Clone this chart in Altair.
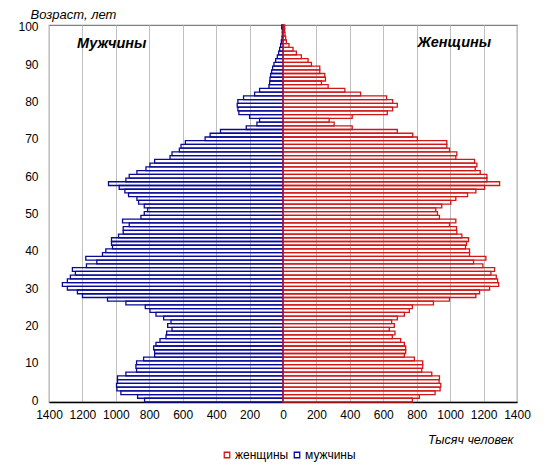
import altair as alt
import pandas as pd

ages = list(range(101))
men = [828, 870, 970, 994, 996, 990, 990, 940, 876, 880,
       876, 834, 768, 768, 774, 760, 736, 700, 696, 664,
       690, 670, 714, 760, 796, 824, 940, 1050, 1200, 1230,
       1290, 1320, 1290, 1272, 1242, 1260, 1176, 1114, 1180, 1080,
       1060, 1020, 1026, 1026, 984, 956, 956, 920, 960, 850,
       830, 810, 830, 864, 874, 924, 946, 980, 1044, 940,
       920, 874, 820, 796, 768, 676, 664, 620, 610, 584,
       466, 436, 374, 220, 156, 140, 200, 264, 270, 274,
       270, 236, 170, 140, 84, 80, 78, 74, 68, 62,
       54, 44, 34, 26, 20, 14, 10, 6, 4, 4,
       8]
women = [774, 816, 910, 940, 944, 934, 936, 890, 830, 836,
         836, 786, 726, 734, 734, 726, 704, 654, 670, 636,
         666, 650, 684, 726, 756, 774, 900, 996, 1154, 1176,
         1236, 1290, 1284, 1276, 1244, 1266, 1196, 1140, 1214, 1116,
         1116, 1092, 1098, 1110, 1070, 1040, 1038, 996, 1034, 936,
         924, 914, 950, 1004, 1034, 1104, 1154, 1206, 1296, 1220,
         1220, 1180, 1150, 1160, 1146, 1034, 1040, 996, 980, 980,
         804, 776, 684, 414, 306, 276, 414, 624, 656, 684,
         656, 620, 464, 370, 270, 230, 254, 250, 220, 220,
         170, 150, 110, 80, 60, 36, 20, 16, 12, 10,
         10]
sexes = ["женщины", "мужчины"]
colors = ["#d01818", "#0a0a9a"]
x_ticks = list(range(-1400, 1401, 200))
y_ticks = list(range(0, 101, 10))
panel_names = ["Мужчины", "Женщины"]
panel_x = [-1025, 1025]
panel_y = [95.4, 95.8]

rows = []
for a, m, w in zip(ages, men, women):
    rows.append({"age": a, "sex": sexes[1], "value": -m})
    rows.append({"age": a, "sex": sexes[0], "value": w})
df = pd.DataFrame(rows)
lab = pd.DataFrame({"name": panel_names, "x": panel_x, "y": panel_y})

FONT = "Liberation Sans"

xscale = alt.Scale(domain=[-1400, 1400], nice=False, zero=False)
yscale = alt.Scale(domain=[-0.5, 100.5], nice=False, zero=False)

x_axis = alt.Axis(values=x_ticks, labelExpr="abs(datum.value)",
                  labelOverlap=False, labelFlush=False,
                  title="Тысяч человек", grid=True, gridColor="#c0c0c0",
                  gridWidth=1, ticks=False, labelPadding=7,
                  domainColor="#000000", domainWidth=1.5,
                  labelFontSize=12, labelFont=FONT, labelColor="#000",
                  titleFont=FONT, titleFontSize=12.5, titleFontStyle="italic",
                  titleFontWeight="normal", titleColor="#000",
                  titleAlign="right", titleX=464, titleY=37,
                  titleBaseline="middle")
y_axis = alt.Axis(values=y_ticks, title="Возраст,  лет", grid=False,
                  labelOverlap=False, labelFlush=False,
                  ticks=False, labelPadding=11, domain=False,
                  labelFontSize=12, labelFont=FONT, labelColor="#000",
                  titleFont=FONT, titleFontSize=13, titleFontStyle="italic",
                  titleFontWeight="normal", titleColor="#000",
                  titleAngle=0, titleAlign="left", titleX=-19, titleY=-7,
                  titleBaseline="alphabetic")

bars = alt.Chart(df).transform_calculate(
    lo="datum.age - 0.5", hi="datum.age + 0.5", base="0"
).mark_bar(filled=False, strokeWidth=1.3).encode(
    x=alt.X("value:Q", scale=xscale, axis=x_axis, title="Тысяч человек"),
    x2="base:Q",
    y=alt.Y("lo:Q", scale=yscale, axis=y_axis, title="Возраст,  лет"),
    y2="hi:Q",
    color=alt.Color("sex:N", scale=alt.Scale(domain=sexes, range=colors),
                    legend=alt.Legend(title=None, orient="none", direction="horizontal",
                                      legendX=172, legendY=424, symbolType="square",
                                      symbolSize=30, symbolStrokeWidth=1.3,
                                      symbolFillColor="white",
                                      labelFontSize=12, labelFont=FONT, labelColor="#000",
                                      labelOffset=2, columnPadding=2, padding=0)),
)

texts = alt.Chart(lab).mark_text(
    font=FONT, fontSize=14.5, fontWeight="bold", fontStyle="italic", color="#000"
).encode(
    x=alt.X("x:Q", scale=xscale, axis=x_axis, title="Тысяч человек"),
    y=alt.Y("y:Q", scale=yscale, axis=y_axis, title="Возраст,  лет"),
    text="name:N",
)

chart = alt.layer(bars, texts).properties(
    width=468, height=377,
    autosize=alt.AutoSizeParams(type="none"),
    padding={"left": 41, "top": 17, "right": 23, "bottom": 65},
).configure_view(stroke="#808080", strokeWidth=1.2)

chart.save("out.html", embed_options={"renderer": "svg", "actions": False})
